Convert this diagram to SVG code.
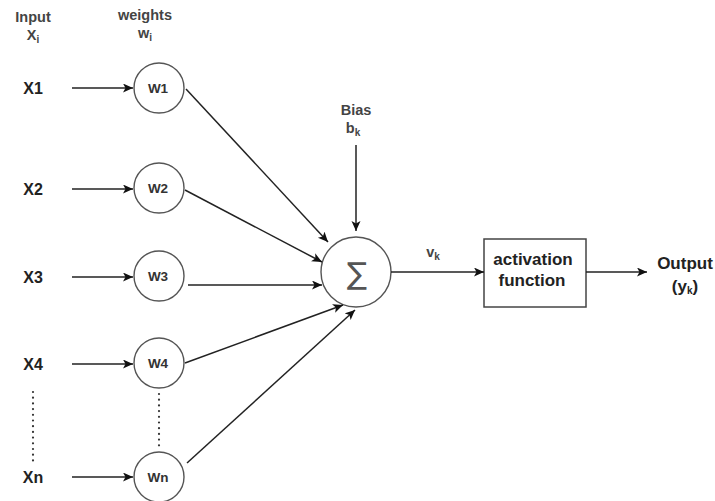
<svg xmlns="http://www.w3.org/2000/svg" width="715" height="501" viewBox="0 0 715 501">
<defs>
<marker id="arr" markerUnits="userSpaceOnUse" markerWidth="12" markerHeight="10" refX="10" refY="4.5" orient="auto">
<path d="M0,0 L10,4.5 L0,9 L2.5,4.5 z" fill="#111"/>
</marker>
<style>
.bg{fill:#fff}
.node{fill:#fff;stroke:#555;stroke-width:1.4}
.box{fill:#fff;stroke:#444;stroke-width:1.5}
.edge{fill:none;stroke:#222;stroke-width:1.5;marker-end:url(#arr)}
.dots{fill:none;stroke:#333;stroke-width:2.2;stroke-linecap:round;stroke-dasharray:0 5.7}
.xl{font-family:"Liberation Sans",Arial,sans-serif;font-weight:bold;font-size:16px;fill:#222;text-anchor:middle}
.wl{font-family:"Liberation Sans",Arial,sans-serif;font-weight:bold;font-size:13.5px;fill:#333;text-anchor:middle}
.hl{font-family:"Liberation Sans",Arial,sans-serif;font-weight:bold;font-size:14.5px;fill:#444;text-anchor:middle}
.bl{font-family:"Liberation Sans",Arial,sans-serif;font-weight:bold;font-size:17px;fill:#222;text-anchor:middle}
.sub{font-size:10px}
.sig{font-family:"DejaVu Sans",sans-serif;font-size:30px;fill:#555;text-anchor:middle}
</style>
</defs>
<rect class="bg" x="0" y="0" width="715" height="501"/>

<g id="headers">
<text class="hl" x="33" y="22">Input</text>
<text class="hl" x="33" y="40">X<tspan class="sub" dy="3">i</tspan></text>
<text class="hl" x="145" y="20">weights</text>
<text class="hl" x="145" y="38">w<tspan class="sub" dy="3">i</tspan></text>
</g>

<g id="x1"><text class="xl" x="33" y="94">X1</text></g>
<g id="x2"><text class="xl" x="33" y="195">X2</text></g>
<g id="x3"><text class="xl" x="33" y="283">X3</text></g>
<g id="x4"><text class="xl" x="33" y="370">X4</text></g>
<g id="xn"><text class="xl" x="33" y="483">Xn</text></g>

<g id="w1"><circle class="node" cx="159" cy="88" r="25"/><text class="wl" x="158" y="93">W1</text></g>
<g id="w2"><circle class="node" cx="159" cy="188" r="25"/><text class="wl" x="158" y="193">W2</text></g>
<g id="w3"><circle class="node" cx="159" cy="276" r="25"/><text class="wl" x="158" y="281">W3</text></g>
<g id="w4"><circle class="node" cx="159" cy="363" r="25"/><text class="wl" x="158" y="368">W4</text></g>
<g id="wn"><circle class="node" cx="159" cy="477" r="25"/><text class="wl" x="158" y="482">Wn</text></g>

<g id="sum"><circle class="node" cx="356" cy="272" r="35"/><text class="sig" x="357" y="284">∑</text></g>

<g id="bias">
<text class="hl" x="356" y="115">Bias</text>
<text class="hl" x="353" y="133">b<tspan class="sub" dy="3">k</tspan></text>
</g>

<g id="vk"><text class="hl" x="433" y="257">v<tspan class="sub" dy="3">k</tspan></text></g>

<g id="activation">
<rect class="box" x="484" y="239" width="102" height="68"/>
<text class="bl" x="533" y="265">activation</text>
<text class="bl" x="532" y="286">function</text>
</g>

<g id="output">
<text class="bl" x="685" y="269">Output</text>
<text class="bl" x="685" y="292">(y<tspan class="sub" dy="2">k</tspan><tspan dy="-2">)</tspan></text>
</g>

<g id="connectors">
<line class="edge" x1="72" y1="88" x2="133" y2="88"/>
<line class="edge" x1="72" y1="189" x2="133" y2="189"/>
<line class="edge" x1="72" y1="277" x2="133" y2="277"/>
<line class="edge" x1="72" y1="364" x2="133" y2="364"/>
<line class="edge" x1="72" y1="477" x2="133" y2="477"/>
<line class="edge" x1="186" y1="89" x2="328" y2="242"/>
<line class="edge" x1="185" y1="190" x2="322" y2="262"/>
<line class="edge" x1="188" y1="285" x2="322" y2="285"/>
<line class="edge" x1="185" y1="363" x2="343" y2="305"/>
<line class="edge" x1="187" y1="463" x2="355" y2="310"/>
<line class="edge" x1="356" y1="145" x2="356" y2="231"/>
<line class="edge" x1="391" y1="272" x2="484" y2="272"/>
<line class="edge" x1="586" y1="272" x2="647" y2="272"/>
<line class="dots" x1="33" y1="392" x2="33" y2="464"/>
<line class="dots" x1="159" y1="394" x2="159" y2="446"/>
</g>
</svg>
